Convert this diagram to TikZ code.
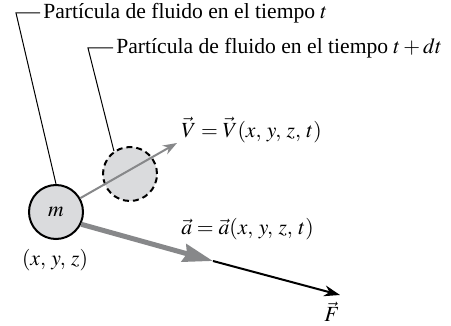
\documentclass[tikz,border=0pt]{standalone}
\usepackage{mathptmx}
\usepackage{fontspec}
\setmainfont{Liberation Serif}
\usepackage{xcolor}
\usepackage{tikz}
\usetikzlibrary{arrows.meta}

\definecolor{partfill}{RGB}{218,219,221}
\definecolor{arrgray}{RGB}{135,136,138}
\newcommand{\csep}{,\mskip2.5mu}

\begin{document}
\begin{tikzpicture}[>=Stealth,x=0.5pt,y=-0.5pt,
    font=\fontsize{10.8}{13}\selectfont,
    particle/.style={circle,draw=black,line width=1pt,fill=partfill,
      minimum size=27pt,inner sep=0pt},
    leader/.style={line width=0.5pt},
    lbl/.style={anchor=west,inner sep=1.5pt}]
  \useasboundingbox (0,0) rectangle (451,326);
  % the particle at time t and at time t+dt
  \node[particle] (m) at (56,212) {$m$};
  \node[particle,dashed,dash pattern=on 3pt off 2pt] (mdt) at (130,174) {};
  % labels
  \node[lbl] (lbl1) at (40,13) {Partícula de fluido en el tiempo $t$};
  \node[lbl] (lbl2) at (113,48) {Partícula de fluido en el tiempo $t + dt$};
  \node[lbl] (vlab) at (178,130) {$\vec V = \vec V(x\csep y\csep z\csep t)$};
  \node[lbl] (alab) at (178,229) {$\vec a = \vec a(x\csep y\csep z\csep t)$};
  \node (pos) at (55,260) {$(x\csep y\csep z)$};
  \node (flab) at (332,312) {$\vec F$};
  % leader lines
  \coordinate (k1) at (16,13);
  \coordinate (k2) at (88,48);
  \draw[leader] (m.north) -- (k1) -- (lbl1.west);
  \draw[leader] (mdt.125) -- (k2) -- (lbl2.west);
  % velocity, acceleration and force
  \coordinate (vtip) at (177,143);
  \coordinate (atip) at (213,261);
  \coordinate (ftip) at (340,295);
  \draw[arrgray,line width=1pt,-{Stealth[length=7pt,width=5pt]}] (m) -- (vtip);
  \draw[black,line width=1pt,-{Stealth[length=8pt,width=5.5pt]}] (atip) -- (ftip);
  \draw[arrgray,line width=2.5pt,-{Stealth[length=15pt,width=9pt,inset=1.5pt]}] (m.-26) -- (atip);
\end{tikzpicture}
\end{document}
